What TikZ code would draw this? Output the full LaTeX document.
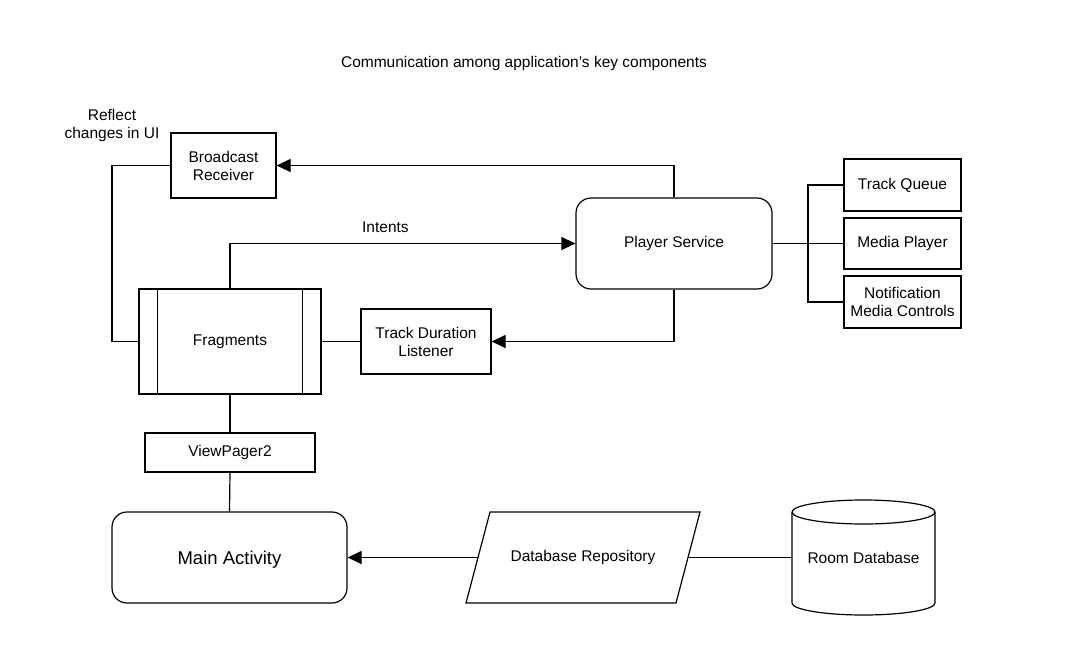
\documentclass[tikz,border=0pt]{standalone}
\usepackage{fontspec}
\setmainfont{Liberation Sans}
\usetikzlibrary{arrows.meta,calc}
\tikzset{
  base/.style={inner sep=0pt, align=center, font=\fontsize{15.5}{18}\selectfont},
  box/.style={base, draw, line width=1.2pt},
  rbox/.style={box, rounded corners=15pt},
  ghost/.style={base},
  conn/.style={line width=1.2pt},
  arr/.style={conn, -{Triangle[length=14pt,width=13pt]}},
  lbl/.style={font=\fontsize{15.5}{18}\selectfont, inner sep=0pt, align=center}
}
\begin{document}
\begin{tikzpicture}[x=1pt,y=-1pt]
\useasboundingbox (0,0) rectangle (1069,667);
\fill[white] (0,0) rectangle (1069,667);

\node[lbl] (title) at (524,63) {Communication among application's key components};
\node[lbl] (reflect) at (112,125) {Reflect\\changes in UI};

\node[box, minimum width=105pt, minimum height=65pt] (br) at (223.5,165.5) {Broadcast\\Receiver};
\node[rbox, minimum width=196pt, minimum height=91pt] (ps) at (674,243.5) {Player Service};
\node[box, minimum width=182pt, minimum height=105pt] (fr) at (230,341.5) {Fragments};
\draw[conn] ($(fr.north west)+(19,0)$) -- ($(fr.south west)+(19,0)$);
\draw[conn] ($(fr.north east)+(-19,0)$) -- ($(fr.south east)+(-19,0)$);
\node[box, minimum width=130pt, minimum height=65pt] (tdl) at (426,341.5) {Track Duration\\Listener};

\node[box, minimum width=117pt, minimum height=52pt] (tq) at (902.5,185) {Track Queue};
\node[box, minimum width=117pt, minimum height=51pt] (mp) at (902.5,243.5) {Media Player};
\node[box, minimum width=117pt, minimum height=52pt] (nmc) at (902.5,302) {Notification\\Media Controls};

\node[box, minimum width=170pt, minimum height=39pt] (vp) at (230,452.5) {ViewPager2};
\node[rbox, minimum width=235pt, minimum height=91pt] (ma) at (229.5,557.5) {};
\node[lbl, font=\fontsize{18.5}{22}\selectfont] (matext) at ($(ma.center)+(0,2.5)$) {Main Activity};

% Database Repository (parallelogram)
\draw[conn] (490,512) -- (700,512) -- (676,603) -- (466,603) -- cycle;
\node[ghost, minimum width=210pt, minimum height=91pt] (repo) at (583,557.5) {Database Repository};

% Room Database (cylinder)
\draw[conn] (792,512) -- (792,603) arc[start angle=180,end angle=360,x radius=71.5pt,y radius=12pt]
  -- (935,512) arc[start angle=0,end angle=180,x radius=71.5pt,y radius=12pt];
\draw[conn] (792,512) arc[start angle=180,end angle=360,x radius=71.5pt,y radius=12pt];
\node[ghost, minimum width=143pt, minimum height=91pt] (room) at (863.5,557.5) {Room Database};

% connectors
\draw[arr] (ps.north) |- (br.east);
\draw[conn] (br.west) -- (112,165.5) |- (fr.west);
\draw[arr] (fr.north) |- node[lbl, pos=0.725, above=10pt] {Intents} (ps.west);
\draw[arr] (ps.south) |- (tdl.east);
\draw[conn] (tdl.west) -- (fr.east);
\draw[conn] (fr.south) -- (vp.north);
\draw[conn] (vp.south) -- (ma.north);
\draw[arr] (repo.west) -- (ma.east);
\draw[conn] (repo.east) -- (room.west);
\coordinate (bus) at (808,243.5);
\draw[conn] (ps.east) -- (mp.west);
\draw[conn] (tq.west) -| (bus) |- (nmc.west);
\end{tikzpicture}
\end{document}
